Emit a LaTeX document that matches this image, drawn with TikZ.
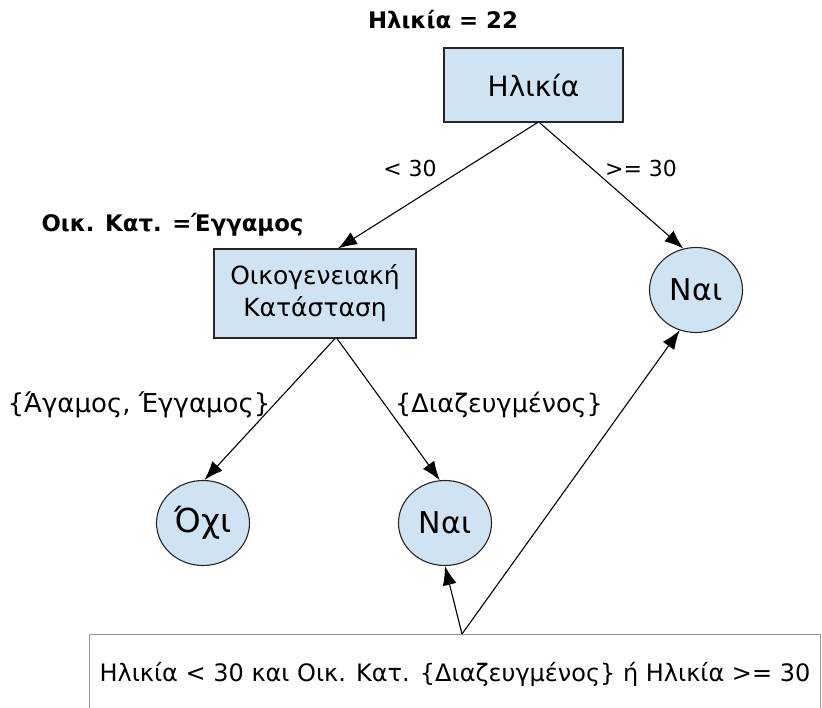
\documentclass[tikz,border=0pt]{standalone}
\usepackage{fontspec}
\setmainfont{DejaVu Sans}
\usetikzlibrary{arrows.meta,shapes.geometric}
\definecolor{nodefill}{RGB}{207,227,243}
\definecolor{framegray}{RGB}{150,150,150}
\newcommand{\fs}[1]{\fontsize{#1}{1.25\dimexpr#1pt\relax}\selectfont}
\begin{document}
\begin{tikzpicture}[x=1pt,y=-1pt,
  decision/.style={draw=black!85, line width=1.1pt, fill=nodefill, inner sep=0pt,
    align=center, font=\fontsize{25}{32}\selectfont},
  leaf/.style={draw=black!85, line width=1.1pt, fill=nodefill, ellipse,
    minimum width=93pt, minimum height=85pt, inner sep=0pt,
    font=\fontsize{30}{34}\selectfont},
  branch/.style={-{Latex[length=19pt,width=14pt]}, line width=1.1pt},
  edgelabel/.style={font=\fontsize{22}{26}\selectfont},
  tag/.style={font=\bfseries\fontsize{22.8}{26}\selectfont},
  rulebox/.style={draw=framegray, line width=1pt, inner sep=0pt,
    minimum width=731pt, minimum height=80pt, font=\fontsize{24}{28}\selectfont},
]
\useasboundingbox (0,0) rectangle (822,707);

% decision nodes
\node[decision, minimum width=179pt, minimum height=74pt, font=\fontsize{28}{32}\selectfont]
  (root) at (533.5,85) {Ηλικία};
\node[decision, minimum width=202pt, minimum height=89pt] (fam) at (315,293.5)
  {Οικογενειακή\\Κατάσταση};

% leaves
\node[leaf] (yesA) at (696,290) {Ναι};
\node[leaf, font=\fontsize{33}{36}\selectfont] (no) at (203,523) {Όχι};
\node[leaf] (yesB) at (445,523) {Ναι};

% tags above the decision nodes
\node[tag] (tagAge) at (443,20) {Ηλικία = 22};
\node[tag, anchor=west] (tagFam) at (38,225) {Οικ. Κατ. =Έγγαμος};

% rule box at the bottom
\node[rulebox, anchor=north east] (rule) at (821,634)
  {Ηλικία < 30 και Οικ. Κατ. \{Διαζευγμένος\} ή Ηλικία >= 30};
\coordinate (ruletop) at (462,634);

% branches
\draw[branch] ([xshift=4pt]root.south) -- ([xshift=23pt]fam.north);
\draw[branch] ([xshift=6pt]root.south) -- (yesA.107);
\draw[branch] ([xshift=20pt]fam.south) -- (no.88);
\draw[branch] ([xshift=22pt]fam.south) -- (yesB.97);
\draw[branch] (ruletop) -- (yesB.270);
\draw[branch] (ruletop) -- (yesA.248);

% branch labels
\node[edgelabel] (lblLt) at (410,168) {< 30};
\node[edgelabel] (lblGe) at (641,168) {>= 30};
\node[edgelabel, font=\fontsize{26}{30}\selectfont] (lblSet1) at (139,405) {\{Άγαμος, Έγγαμος\}};
\node[edgelabel, font=\fontsize{25.5}{30}\selectfont] (lblSet2) at (499,405) {\{Διαζευγμένος\}};
\end{tikzpicture}
\end{document}
